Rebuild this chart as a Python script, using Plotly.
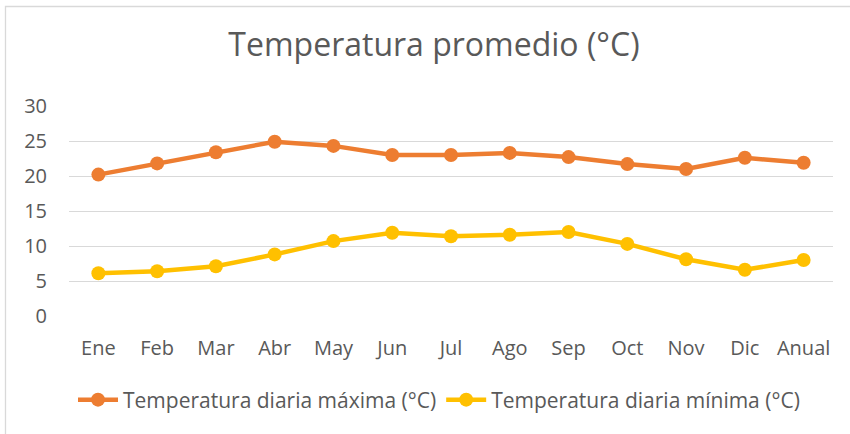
import plotly.graph_objects as go

categories = ["Ene", "Feb", "Mar", "Abr", "May", "Jun", "Jul", "Ago", "Sep", "Oct", "Nov", "Dic", "Anual"]
temp_max = [20.2, 21.8, 23.4, 24.9, 24.3, 23.0, 23.0, 23.3, 22.7, 21.7, 21.0, 22.6, 21.9]
temp_min = [6.1, 6.4, 7.1, 8.8, 10.7, 11.9, 11.4, 11.6, 12.0, 10.3, 8.1, 6.6, 8.0]
series_names = ["Temperatura diaria máxima (°C)", "Temperatura diaria mínima (°C)"]
y_ticks = [0, 5, 10, 15, 20, 25, 30]

FONT = "Open Sans"
TXT = "#595959"
W, H = 850, 434
L, R, T, B = 69, 17, 106, 118
pw, ph = W - L - R, H - T - B

fig = go.Figure()
for name, vals, col in [(series_names[0], temp_max, "#ED7D31"), (series_names[1], temp_min, "#FFC000")]:
    fig.add_trace(go.Scatter(
        x=categories, y=vals, name=name, mode="lines+markers",
        line=dict(color=col, width=4.5),
        marker=dict(color=col, size=14),
    ))

def px_x(p):
    return (p - L) / pw

def px_y(p):
    return (H - B - p) / ph

fig.update_layout(
    width=W, height=H,
    margin=dict(l=L, r=R, t=T, b=B),
    paper_bgcolor="white", plot_bgcolor="white",
    font=dict(family=FONT, color=TXT, size=20),
    title=dict(text="Temperatura promedio (°C)", x=434 / W, xanchor="center",
               y=1 - 45 / H, yanchor="middle",
               font=dict(family=FONT, size=32, color=TXT)),
    xaxis=dict(type="category", range=[-0.5, 12.5], showgrid=False, showline=False,
               zeroline=False, ticks="", ticklabelstandoff=18,
               tickfont=dict(size=20, color=TXT)),
    yaxis=dict(range=[0, 30], tickvals=y_ticks, showgrid=True, gridcolor="#D9D9D9",
               gridwidth=1.3, zeroline=False, showline=False, ticks="",
               ticklabelstandoff=21, tickfont=dict(size=20, color=TXT)),
    legend=dict(orientation="h", x=px_x(439), xanchor="center", y=px_y(400),
                yanchor="middle", font=dict(size=21, color=TXT),
                bgcolor="rgba(0,0,0,0)", itemwidth=40, tracegroupgap=0),
    showlegend=True,
)
fig.add_shape(type="rect", xref="paper", yref="paper",
              x0=px_x(5.5), x1=px_x(860), y0=px_y(445), y1=px_y(6.5),
              line=dict(color="#D9D9D9", width=1.3), fillcolor="rgba(0,0,0,0)", layer="below")

fig.write_html("out.html", config={"displayModeBar": False},
               post_script="document.body.style.margin='0';")
